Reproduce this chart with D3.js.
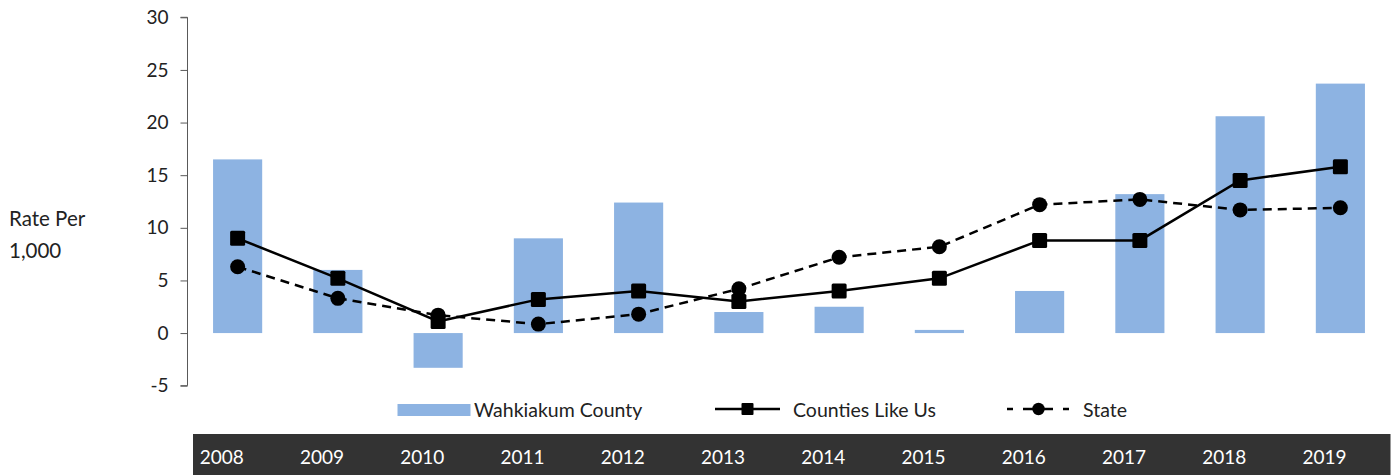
<!DOCTYPE html>
<html>
<head>
<meta charset="utf-8">
<script src="https://cdn.jsdelivr.net/npm/d3@7"></script>
<style>
  body { margin: 0; background: #fff; }
  svg { display: block; font-family: Lato, "Open Sans", sans-serif; }
</style>
</head>
<body>
<svg id="svg0" width="1396" height="475"></svg>
<script>
var years = ['2008','2009','2010','2011','2012','2013','2014','2015','2016','2017','2018','2019'];
var county = [16.5, 6.0, -3.3, 9.0, 12.4, 2.0, 2.5, 0.3, 4.0, 13.2, 20.6, 23.7];
var likeUs = [9.0, 5.2, 1.1, 3.2, 4.0, 3.0, 4.0, 5.2, 8.8, 8.8, 14.5, 15.8];
var state = [6.3, 3.3, 1.7, 0.85, 1.8, 4.2, 7.2, 8.2, 12.2, 12.7, 11.7, 11.9];
var yTicks = [-5, 0, 5, 10, 15, 20, 25, 30];

var svg = d3.select('#svg0');

var x = d3.scaleBand()
    .domain(years)
    .range([187.5, 1390.5])
    .paddingInner(0.51)
    .paddingOuter(0.255);

var y = d3.scaleLinear()
    .domain([-5, 30])
    .range([385.7, 17.3]);

var cx = function (d, i) { return x(years[i]) + x.bandwidth() / 2; };

// y axis
var yAxis = svg.append('g')
    .attr('transform', 'translate(187.5,0)')
    .call(d3.axisLeft(y).tickValues(yTicks).tickSize(7).tickPadding(12)
        .tickFormat(function (d) { return String(d); }));
yAxis.selectAll('line, path').attr('stroke', '#595959').attr('stroke-width', 1);
yAxis.select('.domain').attr('d', 'M-7,' + y(30) + 'H0V' + y(-5) + 'H-7');
yAxis.selectAll('text').attr('font-size', 19).attr('fill', '#222')
    .attr('font-family', 'Lato, sans-serif');

// bars
svg.selectAll('rect.bar')
    .data(county)
    .enter()
    .append('rect')
    .attr('class', 'bar')
    .attr('x', function (d, i) { return x(years[i]); })
    .attr('width', x.bandwidth())
    .attr('y', function (d) { return y(Math.max(0, d)); })
    .attr('height', function (d) { return Math.abs(y(d) - y(0)); })
    .attr('fill', '#8DB3E2');

var line = d3.line()
    .x(cx)
    .y(function (d) { return y(d); });

// state
svg.append('path')
    .datum(state)
    .attr('d', line)
    .attr('fill', 'none')
    .attr('stroke', '#000')
    .attr('stroke-width', 2.5)
    .attr('stroke-dasharray', '9,6');

svg.selectAll('circle.st')
    .data(state)
    .enter()
    .append('circle')
    .attr('class', 'st')
    .attr('cx', cx)
    .attr('cy', function (d) { return y(d); })
    .attr('r', 7.5)
    .attr('fill', '#000');

// counties like us
svg.append('path')
    .datum(likeUs)
    .attr('d', line)
    .attr('fill', 'none')
    .attr('stroke', '#000')
    .attr('stroke-width', 2.5);

svg.selectAll('rect.cl')
    .data(likeUs)
    .enter()
    .append('rect')
    .attr('class', 'cl')
    .attr('x', function (d, i) { return cx(d, i) - 7.5; })
    .attr('y', function (d) { return y(d) - 7.5; })
    .attr('width', 15)
    .attr('height', 15)
    .attr('rx', 1.5)
    .attr('fill', '#000');

// y title
svg.append('text').attr('x', 9).attr('y', 226).attr('font-size', 20.5).attr('fill', '#222').text('Rate Per');
svg.append('text').attr('x', 9).attr('y', 258).attr('font-size', 20.5).attr('fill', '#222').text('1,000');

// legend
var lg = svg.append('g').attr('font-size', 19.5).attr('fill', '#222');
lg.append('rect').attr('x', 397.5).attr('y', 404).attr('width', 73).attr('height', 12).attr('fill', '#8DB3E2');
lg.append('text').attr('x', 474).attr('y', 416.5).text('Wahkiakum County');
lg.append('line').attr('x1', 715).attr('x2', 780).attr('y1', 409).attr('y2', 409)
    .attr('stroke', '#000').attr('stroke-width', 2.5);
lg.append('rect').attr('x', 741.5).attr('y', 403).attr('width', 12).attr('height', 12).attr('rx', 1).attr('fill', '#000');
lg.append('text').attr('x', 793).attr('y', 416.5).text('Counties Like Us');
[[1007, 1013], [1023, 1053], [1063, 1069]].forEach(function (s) {
    lg.append('line').attr('x1', s[0]).attr('x2', s[1]).attr('y1', 409).attr('y2', 409)
        .attr('stroke', '#000').attr('stroke-width', 2.5);
});
lg.append('circle').attr('cx', 1038.5).attr('cy', 409).attr('r', 6.2).attr('fill', '#000');
lg.append('text').attr('x', 1083).attr('y', 416.5).text('State');

// year band
svg.append('rect')
    .attr('x', 193)
    .attr('y', 434)
    .attr('width', 1390.5 - 193)
    .attr('height', 41)
    .attr('fill', '#333333');

svg.selectAll('text.yr')
    .data(years)
    .enter()
    .append('text')
    .attr('class', 'yr')
    .attr('x', function (d) { return x(d) + x.bandwidth() / 2 - 38; })
    .attr('y', 464)
    .attr('font-size', 19)
    .attr('fill', '#fff')
    .text(function (d) { return d; });
</script>
</body>
</html>
